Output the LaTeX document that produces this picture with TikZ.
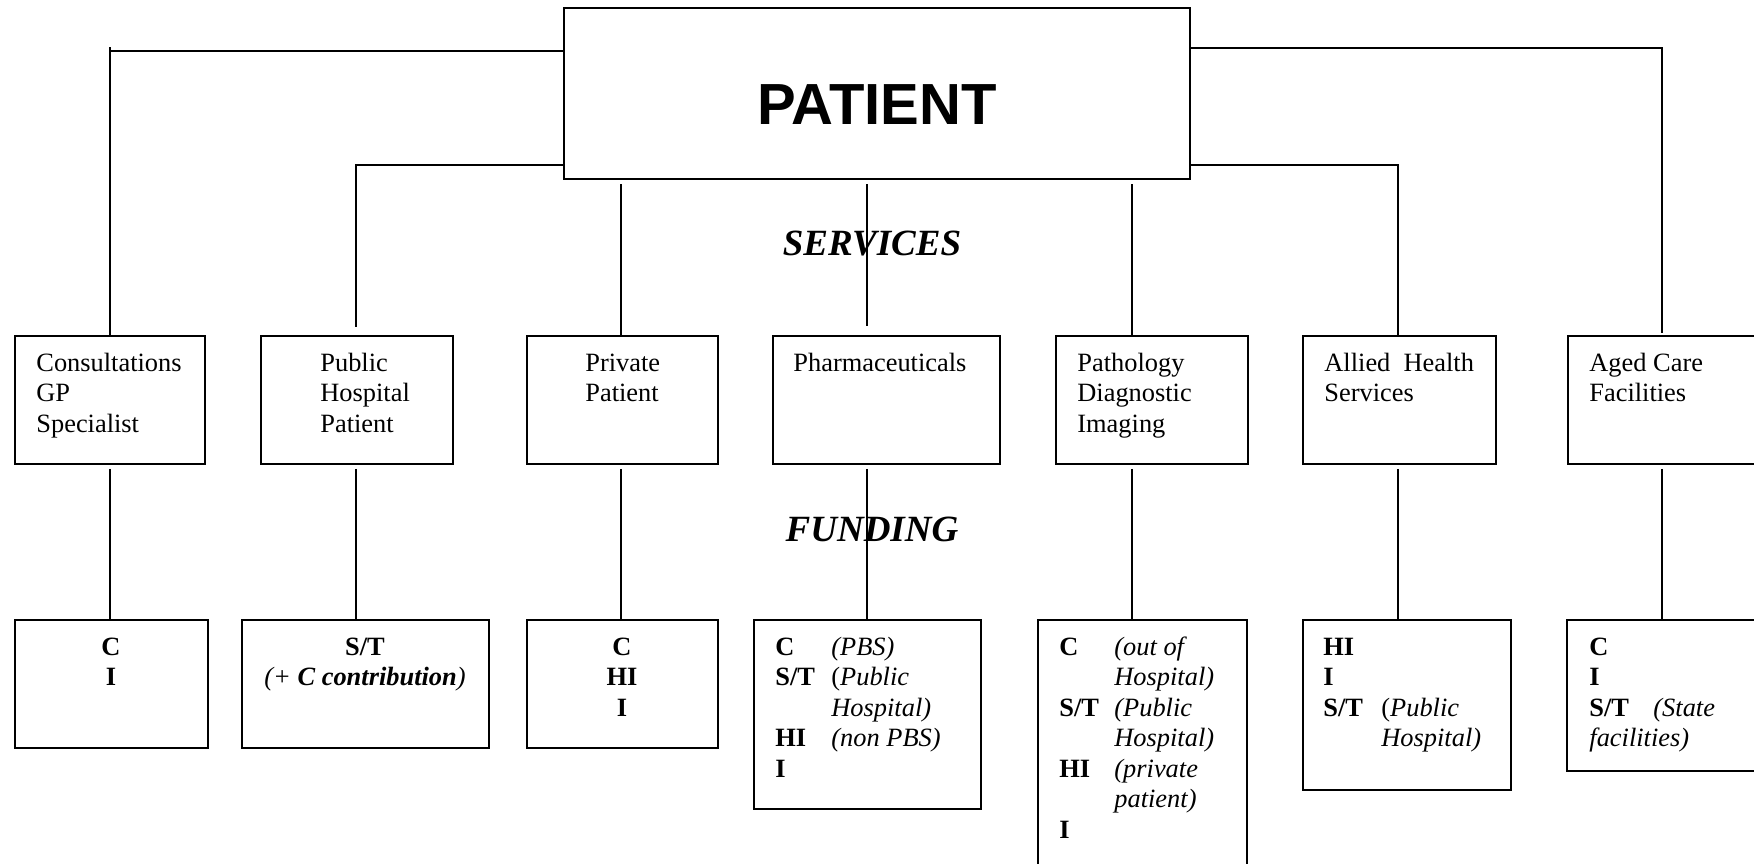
\documentclass[tikz,border=0pt]{standalone}
\usepackage{fontspec}
\setmainfont{Liberation Serif}
\newfontfamily\arialfont{Liberation Sans}
\usetikzlibrary{fit}
\newcommand\bodyfont{\fontsize{13.2}{15.25}\selectfont}
\newcommand\headfont{\fontsize{18.5}{22}\selectfont\bfseries\itshape}
\newcommand\lab[2]{\makebox[#1][l]{\textbf{#2}}}
\begin{document}
\begin{tikzpicture}[x=0.5pt,y=-0.5pt,
  box/.style={draw,line width=0.85pt,inner sep=0pt},
  conn/.style={line width=0.65pt},
  txt/.style={inner sep=0pt,anchor=base west,font=\bodyfont},
  ctxt/.style={inner sep=0pt,anchor=base,font=\bodyfont},
  head/.style={inner sep=0pt,anchor=base,font=\headfont}]
\useasboundingbox (0,0) rectangle (1754,863);
\clip (0,0) rectangle (1754,863);

% top box
\node[box,fit={(564,8) (1190,179)}] (patient) {};
\node[inner sep=0pt,anchor=base] (ptxt) at (877,124) {\arialfont\bfseries\fontsize{29}{34}\selectfont PATIENT};

% service boxes
\node[box,fit={(15,336) (205,464)}] (s1) {};
\node[box,fit={(261,336) (453,464)}] (s2) {};
\node[box,fit={(527,336) (718,464)}] (s3) {};
\node[box,fit={(773,336) (1000,464)}] (s4) {};
\node[box,fit={(1056,336) (1248,464)}] (s5) {};
\node[box,fit={(1303,336) (1496,464)}] (s6) {};
\node[box,fit={(1568,336) (1775,464)}] (s7) {};

% funding boxes
\node[box,fit={(15,620) (208,748)}] (f1) {};
\node[box,fit={(242,620) (489,748)}] (f2) {};
\node[box,fit={(527,620) (718,748)}] (f3) {};
\node[box,fit={(754,620) (981,809)}] (f4) {};
\node[box,fit={(1038,620) (1247,890)}] (f5) {};
\node[box,fit={(1303,620) (1511,790)}] (f6) {};
\node[box,fit={(1567,620) (1775,771)}] (f7) {};

% service texts
\node[txt] (t1) at (36,371) {\begin{tabular}[t]{@{}l@{}}Consultations\\GP\\Specialist\end{tabular}};
\node[txt] (t2) at (320,371) {\begin{tabular}[t]{@{}l@{}}Public\\Hospital\\Patient\end{tabular}};
\node[txt] (t3) at (585,371) {\begin{tabular}[t]{@{}l@{}}Private\\Patient\end{tabular}};
\node[txt] (t4) at (793,371) {Pharmaceuticals};
\node[txt] (t5) at (1077,371) {\begin{tabular}[t]{@{}l@{}}Pathology\\Diagnostic\\Imaging\end{tabular}};
\node[txt] (t6) at (1324,371) {\begin{tabular}[t]{@{}l@{}}Allied\ \ Health\\Services\end{tabular}};
\node[txt] (t7) at (1589,371) {\begin{tabular}[t]{@{}l@{}}Aged Care\\Facilities\end{tabular}};

% funding texts
\node[ctxt] (u1) at (111,655) {\begin{tabular}[t]{@{}c@{}}\textbf{C}\\\textbf{I}\end{tabular}};
\node[ctxt] (u2) at (365,655) {\begin{tabular}[t]{@{}c@{}}\textbf{S/T}\\\textit{(+ \textbf{C contribution})}\end{tabular}};
\node[ctxt] (u3) at (622,655) {\begin{tabular}[t]{@{}c@{}}\textbf{C}\\\textbf{HI}\\\textbf{I}\end{tabular}};
\node[txt] (u4) at (775,655) {\begin{tabular}[t]{@{}l@{}l@{}}
  \lab{28pt}{C} & \textit{(PBS)}\\
  \lab{28pt}{S/T} & (\textit{Public}\\
  & \textit{Hospital)}\\
  \lab{28pt}{HI} & \textit{(non PBS)}\\
  \lab{28pt}{I} &
\end{tabular}};
\node[txt] (u5) at (1059,655) {\begin{tabular}[t]{@{}l@{}l@{}}
  \lab{27.5pt}{C} & \textit{(out of}\\
  & \textit{Hospital)}\\
  \lab{27.5pt}{S/T} & \textit{(Public}\\
  & \textit{Hospital)}\\
  \lab{27.5pt}{HI} & \textit{(private}\\
  & \textit{patient)}\\
  \lab{27.5pt}{I} &
\end{tabular}};
\node[txt] (u6) at (1323,655) {\begin{tabular}[t]{@{}l@{}l@{}}
  \lab{29pt}{HI} & \\
  \lab{29pt}{I} & \\
  \lab{29pt}{S/T} & (\textit{Public}\\
  & \textit{Hospital)}
\end{tabular}};
\node[txt] (u7) at (1589,655) {\begin{tabular}[t]{@{}l@{}l@{}}
  \lab{32pt}{C} & \\
  \lab{32pt}{I} & \\
  \lab{32pt}{S/T} & \textit{(State}\\
  \multicolumn{2}{@{}l@{}}{\textit{facilities)}}
\end{tabular}};

% headings
\node[head] (serv) at (872,255) {SERVICES};
\node[head] (fund) at (872,541) {FUNDING};

% connectors patient -> services
\coordinate (k1a) at (110,51);
\coordinate (k1) at (110,47);
\draw[conn] (k1a -| patient.west) -- (k1a);
\draw[conn] (k1) -- (s1.north);
\coordinate (k2) at (356,165);
\draw[conn] (k2 -| patient.west) -- (k2) -- ([yshift=4pt]k2 |- s2.north);
\coordinate (k3) at (621,184);
\draw[conn] (k3) -- (k3 |- s3.north);
\coordinate (k4) at (867,184);
\draw[conn] (k4) -- ([yshift=4.5pt]k4 |- s4.north);
\coordinate (k5) at (1132,184);
\draw[conn] (k5) -- (k5 |- s5.north);
\coordinate (k6) at (1398,165);
\draw[conn] (k6 -| patient.east) -- (k6) -- (k6 |- s6.north);
\coordinate (k7) at (1662,48);
\draw[conn] (k7 -| patient.east) -- (k7) -- ([yshift=1pt]k7 |- s7.north);

% connectors services -> funding
\draw[conn] ([yshift=-2pt]k1 |- s1.south) -- (k1 |- f1.north);
\draw[conn] ([yshift=-2pt]k2 |- s2.south) -- (k2 |- f2.north);
\draw[conn] ([yshift=-2pt]k3 |- s3.south) -- (k3 |- f3.north);
\draw[conn] ([yshift=-2pt]k4 |- s4.south) -- (k4 |- f4.north);
\draw[conn] ([yshift=-2pt]k5 |- s5.south) -- (k5 |- f5.north);
\draw[conn] ([yshift=-2pt]k6 |- s6.south) -- (k6 |- f6.north);
\draw[conn] ([yshift=-2pt]k7 |- s7.south) -- (k7 |- f7.north);
\end{tikzpicture}
\end{document}
